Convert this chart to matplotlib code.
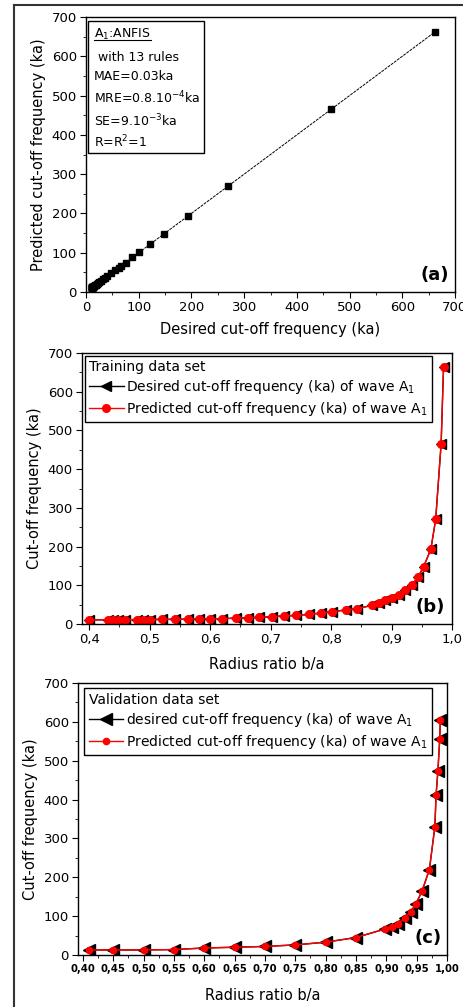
import numpy as np
import matplotlib
matplotlib.use("Agg")
import matplotlib.pyplot as plt
from matplotlib.lines import Line2D
from matplotlib.ticker import MultipleLocator, FuncFormatter

plt.rcParams['font.family'] = ['DejaVu Sans']
plt.rcParams['font.size'] = 9
plt.rcParams['mathtext.default'] = 'regular'

# training data set (radius ratio b/a, cut-off frequency ka)
ratio_train = [0.400, 0.431, 0.440, 0.448, 0.459, 0.479, 0.489, 0.500, 0.520, 0.541,
               0.563, 0.582, 0.600, 0.620, 0.643, 0.662, 0.681, 0.703, 0.722, 0.742,
               0.764, 0.783, 0.802, 0.824, 0.843, 0.868, 0.879, 0.890, 0.900, 0.912,
               0.923, 0.934, 0.944, 0.953, 0.965, 0.973, 0.982, 0.986]
des_train = [10.5, 11, 11, 11, 11, 11.5, 11.5, 11.5, 12, 12,
             12.5, 13, 13.5, 14, 15, 16, 17, 19, 21, 22,
             25, 28, 32, 36, 40, 48, 55, 62, 66, 75,
             88, 101, 122, 148, 193, 270, 465, 663]
pred_train = list(des_train)

# validation data set
ratio_val = [0.41, 0.45, 0.50, 0.55, 0.60, 0.65, 0.70, 0.75, 0.80, 0.85,
             0.898, 0.909, 0.919, 0.930, 0.940, 0.949, 0.959, 0.971, 0.980, 0.982,
             0.985, 0.988, 0.989]
des_val = [13, 13, 13, 14, 18, 20, 22, 26, 33, 45,
           67, 73, 80, 95, 111, 132, 165, 220, 330, 412,
           473, 555, 605]
pred_val = list(des_val)

W, H = 464, 1007
fig = plt.figure(figsize=(W / 100, H / 100), dpi=100)

TICK_FS = 9.5
LABEL_FS = 10.5
LEG_FS = 10

def axes_px(l, t, r, b):
    return fig.add_axes([l / W, 1 - b / H, (r - l) / W, (b - t) / H])

def style(ax):
    ax.tick_params(which='both', direction='out', top=False, right=False,
                   labelsize=TICK_FS, pad=2.5)
    ax.tick_params(which='major', length=4)
    ax.tick_params(which='minor', length=2)
    for s in ax.spines.values():
        s.set_linewidth(1.0)

comma = FuncFormatter(lambda v, p: ('%.1f' % v).replace('.', ','))
comma2 = FuncFormatter(lambda v, p: ('%.2f' % v).replace('.', ','))

# (a) predicted vs desired
ax1 = axes_px(86, 17, 455, 292)
style(ax1)
ax1.plot(des_train, pred_train, color='black', lw=0.7, ls=(0, (3, 1)),
         marker='s', ms=4.5, mfc='black', mec='black')
ax1.set_xlim(0, 700)
ax1.set_ylim(0, 700)
ax1.xaxis.set_major_locator(MultipleLocator(100))
ax1.xaxis.set_minor_locator(MultipleLocator(50))
ax1.yaxis.set_major_locator(MultipleLocator(100))
ax1.yaxis.set_minor_locator(MultipleLocator(50))
ax1.set_xlabel('Desired cut-off frequency (ka)', fontsize=LABEL_FS, labelpad=6)
ax1.set_ylabel('Predicted cut-off frequency (ka)', fontsize=LABEL_FS, labelpad=4)
ax1.add_patch(plt.Rectangle((0.005, 0.505), 0.315, 0.48, transform=ax1.transAxes,
                            fill=False, ec='black', lw=1.0))
t1 = ax1.text(0.022, 0.938, 'A$_1$:ANFIS', transform=ax1.transAxes, va='center', fontsize=9)
box_lines = [' with 13 rules', 'MAE=0.03ka', 'MRE=0.8.10$^{-4}$ka',
             'SE=9.10$^{-3}$ka', 'R=R$^2$=1']
box_y = [0.851, 0.785, 0.705, 0.622, 0.545]
for s, y in zip(box_lines, box_y):
    ax1.text(0.022, y, s, transform=ax1.transAxes, va='center', fontsize=9)
fig.canvas.draw()
bb = t1.get_window_extent().transformed(ax1.transAxes.inverted())
ax1.plot([bb.x0, bb.x1], [bb.y0 + 0.005, bb.y0 + 0.005], color='black', lw=0.8,
         transform=ax1.transAxes)
ax1.text(0.985, 0.062, '(a)', transform=ax1.transAxes, ha='right', va='center',
         fontsize=13, fontweight='bold')

# (b) training data set
ax2 = axes_px(82, 353, 452, 624)
style(ax2)
ax2.plot(ratio_train, des_train, color='black', lw=1.0, marker='<', ms=7.5,
         mfc='black', mec='black', label='Desired cut-off frequency (ka) of wave A$_1$')
ax2.plot(ratio_train, pred_train, color='red', lw=1.0, marker='o', ms=5.5,
         mfc='red', mec='red', label='Predicted cut-off frequency (ka) of wave A$_1$')
ax2.set_xlim(0.388, 1.0)
ax2.set_ylim(0, 700)
ax2.xaxis.set_major_locator(MultipleLocator(0.1))
ax2.xaxis.set_minor_locator(MultipleLocator(0.05))
ax2.xaxis.set_major_formatter(comma)
ax2.yaxis.set_major_locator(MultipleLocator(100))
ax2.yaxis.set_minor_locator(MultipleLocator(50))
ax2.set_xlabel('Radius ratio b/a', fontsize=LABEL_FS, labelpad=8)
ax2.set_ylabel('Cut-off frequency (ka)', fontsize=LABEL_FS)
lg = ax2.legend(loc='upper left', bbox_to_anchor=(0.0, 1.0), borderaxespad=0.2,
                title='Training data set', alignment='left', fontsize=LEG_FS,
                title_fontsize=LEG_FS, fancybox=False, edgecolor='black',
                handlelength=2.5, handletextpad=0.2, labelspacing=0.3,
                borderpad=0.3, framealpha=1)
lg.get_frame().set_linewidth(1.0)
ax2.text(0.98, 0.063, '(b)', transform=ax2.transAxes, ha='right', va='center',
         fontsize=13, fontweight='bold')

# (c) validation data set
ax3 = axes_px(78, 683, 447, 955)
style(ax3)
ax3.plot(ratio_val, des_val, color='black', lw=1.0, marker='<', ms=8,
         mfc='black', mec='black', label='desired cut-off frequency (ka) of wave A$_1$')
ax3.plot(ratio_val, pred_val, color='red', lw=1.0, marker='o', ms=4.5,
         mfc='red', mec='red', label='Predicted cut-off frequency (ka) of wave A$_1$')
ax3.set_xlim(0.392, 1.0)
ax3.set_ylim(0, 700)
ax3.xaxis.set_major_locator(MultipleLocator(0.05))
ax3.xaxis.set_minor_locator(MultipleLocator(0.025))
ax3.xaxis.set_major_formatter(comma2)
ax3.yaxis.set_major_locator(MultipleLocator(100))
ax3.yaxis.set_minor_locator(MultipleLocator(50))
for lab in ax3.get_xticklabels():
    lab.set_fontsize(7.2)
    lab.set_fontweight('bold')
ax3.set_xlabel('Radius ratio b/a', fontsize=LABEL_FS, labelpad=10)
ax3.set_ylabel('Cut-off frequency (ka)', fontsize=LABEL_FS)
lg3 = ax3.legend(loc='upper left', bbox_to_anchor=(0.01, 0.99), borderaxespad=0.2,
                 title='Validation data set', alignment='left', fontsize=LEG_FS,
                 title_fontsize=LEG_FS, fancybox=False, edgecolor='black',
                 handlelength=2.5, handletextpad=0.2, labelspacing=0.3,
                 borderpad=0.3, framealpha=1)
lg3.get_frame().set_linewidth(1.0)
ax3.text(0.985, 0.0625, '(c)', transform=ax3.transAxes, ha='right', va='center',
         fontsize=13, fontweight='bold')

# outer frame (left and top edges)
fx = 14 / W
fy = 1 - 5 / H
fig.add_artist(Line2D([fx, fx], [0, fy], color='#333333', lw=1.5))
fig.add_artist(Line2D([fx, 1], [fy, fy], color='#333333', lw=1.5))

fig.savefig('out.png', dpi=100)
